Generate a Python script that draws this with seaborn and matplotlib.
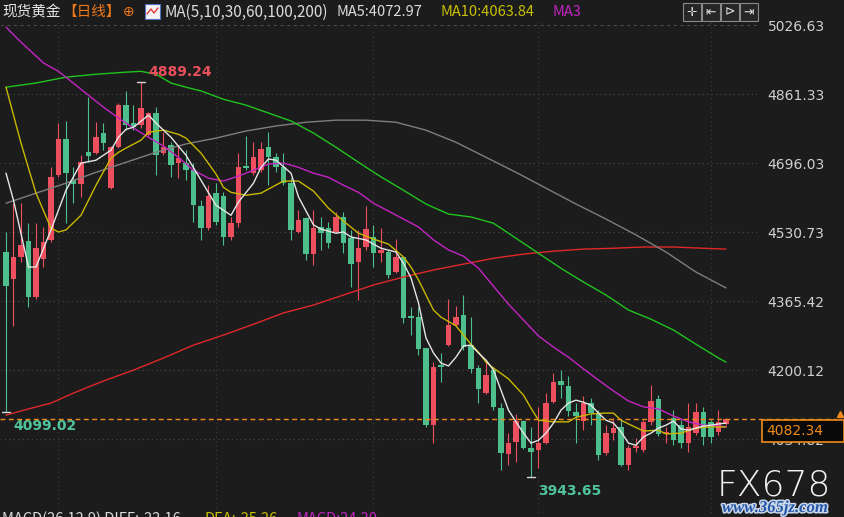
import numpy as np
import pandas as pd
import matplotlib
matplotlib.use('Agg')
import matplotlib.pyplot as plt
import matplotlib.transforms as mtransforms
import matplotlib.patheffects as pe
from matplotlib.patches import Rectangle
import seaborn as sns

BG = '#1c1c1c'
UP = '#ee4f5f'
DOWN = '#4dbf8c'
W, H = 844, 517

# daily candles (red = up, green = down)
opens = [4482.8, 4418.1, 4470.8, 4509.1, 4375.0, 4466.0, 4511.5, 4667.2, 4753.5, 4655.3,
         4645.7, 4722.4, 4720.0, 4767.9, 4636.1, 4734.3, 4835.0, 4791.8, 4787.0, 4763.1,
         4815.8, 4720.0, 4739.1, 4696.0, 4696.0, 4679.2, 4593.0, 4540.3, 4624.1, 4616.9,
         4518.7, 4552.3, 4688.8, 4672.0, 4679.2, 4734.3, 4710.4, 4686.4, 4648.1, 4530.7,
         4564.2, 4478.0, 4542.7, 4540.3, 4530.7, 4566.6, 4516.3, 4458.8, 4494.8, 4518.7,
         4480.4, 4482.8, 4434.9, 4470.8, 4329.5, 4327.1, 4252.8, 4068.3, 4212.1, 4260.0,
         4307.9, 4331.9, 4260.0, 4204.9, 4145.0, 4200.1, 4109.1, 3998.8, 4027.6, 4077.9,
         4013.2, 4008.4, 4025.2, 4123.4, 4173.7, 4161.8, 4099.5, 4077.9, 4121.0, 4097.1,
         4001.2, 4049.2, 4063.5, 3972.5, 4013.2, 4008.4, 4075.5, 4130.6, 4046.8, 4085.1,
         4068.3, 4025.2, 4049.2, 4099.5, 4075.5, 4051.6, 4070.7]
highs = [4530.7, 4600.2, 4600.2, 4552.3, 4552.3, 4542.7, 4686.4, 4791.8, 4796.6, 4686.4,
         4715.2, 4854.1, 4794.2, 4791.8, 4738.0, 4839.7, 4868.5, 4835.0, 4889.24, 4818.2,
         4830.2, 4770.3, 4746.3, 4736.7, 4727.1, 4696.0, 4607.4, 4643.3, 4648.1, 4626.5,
         4566.6, 4720.0, 4760.7, 4746.3, 4746.3, 4770.3, 4720.0, 4720.0, 4660.1, 4583.4,
         4566.6, 4583.4, 4566.6, 4554.7, 4578.6, 4578.6, 4535.5, 4535.5, 4593.0, 4547.5,
         4540.3, 4487.6, 4513.9, 4472.0, 4351.0, 4351.0, 4254.0, 4219.3, 4240.8, 4370.2,
         4353.4, 4379.8, 4327.1, 4212.1, 4219.3, 4207.3, 4121.0, 4049.2, 4094.7, 4080.3,
         4063.5, 4111.5, 4145.0, 4192.9, 4200.1, 4185.7, 4121.0, 4137.8, 4133.0, 4104.3,
         4068.3, 4085.1, 4080.3, 4020.4, 4037.2, 4080.3, 4164.2, 4140.0, 4063.5, 4104.3,
         4080.3, 4121.0, 4121.0, 4111.5, 4080.3, 4104.3, 4085.1]
lows = [4099.02, 4305.5, 4458.8, 4351.0, 4370.0, 4446.8, 4508.0, 4662.5, 4552.3, 4600.2,
        4614.5, 4698.4, 4718.0, 4727.1, 4634.0, 4732.0, 4775.1, 4775.1, 4779.8, 4761.0,
        4667.2, 4715.2, 4662.5, 4660.1, 4655.3, 4554.7, 4511.5, 4535.5, 4547.5, 4499.6,
        4511.5, 4542.7, 4679.2, 4667.2, 4674.4, 4643.3, 4674.4, 4643.3, 4511.5, 4528.0,
        4463.6, 4451.6, 4487.6, 4492.4, 4528.0, 4480.4, 4398.9, 4367.8, 4487.6, 4446.8,
        4458.8, 4420.5, 4432.5, 4312.7, 4283.9, 4236.0, 4063.5, 4025.2, 4171.3, 4258.0,
        4306.0, 4248.0, 4192.9, 4121.0, 4143.0, 4104.3, 3960.5, 3972.5, 3979.7, 4010.8,
        3943.65, 3965.3, 4023.0, 4121.0, 4133.0, 4089.9, 4025.2, 4056.3, 4068.3, 3984.5,
        3996.5, 4032.4, 3970.1, 3960.5, 4003.6, 4003.6, 4068.3, 4042.0, 4025.2, 4020.4,
        4013.2, 4003.6, 4044.4, 4020.4, 4025.2, 4044.4, 4068.3]
closes = [4401.3, 4470.8, 4499.6, 4375.0, 4492.4, 4506.7, 4662.5, 4753.5, 4672.0, 4645.7,
          4698.4, 4712.8, 4758.3, 4743.9, 4734.3, 4835.0, 4787.0, 4782.2, 4827.8, 4815.8,
          4715.2, 4734.3, 4691.2, 4708.0, 4679.2, 4595.4, 4540.3, 4616.9, 4554.7, 4518.7,
          4552.3, 4686.4, 4684.0, 4710.4, 4729.5, 4710.4, 4686.4, 4648.1, 4535.5, 4559.4,
          4478.0, 4540.3, 4528.3, 4504.3, 4566.6, 4504.3, 4454.0, 4492.4, 4537.9, 4480.4,
          4487.6, 4427.7, 4470.8, 4324.7, 4324.7, 4250.4, 4068.3, 4207.3, 4207.3, 4307.9,
          4327.1, 4255.2, 4202.5, 4154.6, 4188.1, 4111.5, 4001.2, 4025.2, 4077.9, 4013.2,
          4003.6, 4025.2, 4121.0, 4171.3, 4164.2, 4101.9, 4089.9, 4121.0, 4097.1, 3996.5,
          4049.2, 4061.1, 3972.5, 4013.2, 4018.0, 4075.5, 4125.8, 4046.8, 4051.6, 4032.4,
          4025.2, 4063.5, 4099.5, 4039.6, 4039.6, 4075.5, 4082.34]

# moving averages (candle index, value)
ma5_idx = [1, 2, 4, 5, 7, 9, 11, 13, 15, 16, 17, 18, 20, 21, 23, 25, 27, 29, 31, 32, 34, 35,
           36, 37, 39, 40, 42, 43, 45, 46, 47, 49, 51, 53, 54, 55, 56, 57, 58, 59, 60, 61, 62,
           63, 64, 65, 66, 67, 68, 69, 70, 71, 72, 73, 74, 75, 76, 77, 78, 79, 80, 81, 82, 83,
           84, 85, 86, 87, 88, 89, 90, 91, 92, 93, 94, 95, 96, 97]
ma5_val = [4672, 4607, 4447, 4447, 4536, 4631, 4696, 4703, 4727, 4758, 4777, 4782, 4811, 4792,
           4758, 4715, 4655, 4595, 4571, 4603, 4648, 4686, 4706, 4703, 4672, 4615, 4548, 4538,
           4528, 4531, 4519, 4512, 4492, 4483, 4456, 4421, 4361, 4277, 4241, 4217, 4210, 4231,
           4258, 4260, 4241, 4224, 4200, 4152, 4104, 4076, 4049, 4025, 4032, 4049, 4073, 4104,
           4121, 4128, 4123, 4116, 4097, 4080, 4073, 4052, 4025, 4020, 4040, 4049, 4061, 4068,
           4078, 4059, 4056, 4061, 4066, 4068, 4071, 4072.97]
ma10_idx = [1, 3, 5, 7, 8, 9, 11, 13, 15, 16, 17, 19, 20, 22, 24, 25, 27, 29, 30, 31, 33, 35,
            36, 38, 40, 42, 44, 46, 48, 50, 52, 54, 55, 56, 57, 58, 59, 61, 63, 64, 65, 66, 68,
            70, 71, 72, 74, 76, 77, 79, 81, 82, 83, 84, 86, 88, 89, 91, 93, 95, 97]
ma10_val = [4878, 4744, 4624, 4540, 4531, 4536, 4571, 4643, 4708, 4722, 4732, 4751, 4770, 4775,
            4765, 4756, 4720, 4670, 4638, 4626, 4619, 4624, 4634, 4653, 4653, 4629, 4588, 4557,
            4528, 4514, 4502, 4471, 4447, 4416, 4380, 4344, 4327, 4306, 4262, 4243, 4219, 4205,
            4179, 4140, 4109, 4080, 4076, 4076, 4087, 4095, 4097, 4097, 4080, 4071, 4054, 4056,
            4047, 4049, 4061, 4064, 4063.84]
ma30_idx = [1, 3, 6, 8, 11, 14, 16, 18, 20, 22, 24, 26, 28, 30, 32, 34, 36, 38, 40, 42, 44, 46,
            48, 50, 52, 54, 56, 58, 60, 62, 64, 66, 68, 70, 72, 74, 76, 78, 80, 82, 84, 86, 88,
            90, 92, 94, 96, 97]
ma30_val = [5022, 4986, 4936, 4916, 4873, 4830, 4804, 4780, 4758, 4737, 4710, 4679, 4660, 4653,
            4665, 4679, 4694, 4696, 4686, 4672, 4662, 4643, 4626, 4600, 4581, 4562, 4543, 4512,
            4488, 4473, 4444, 4401, 4358, 4320, 4282, 4255, 4231, 4203, 4176, 4150, 4126, 4112,
            4107, 4090, 4076, 4068, 4066, 4064]
ma60_idx = [1, 5, 9, 13, 17, 19, 21, 23, 25, 27, 30, 33, 36, 39, 42, 45, 48, 51, 54, 57, 60,
            63, 66, 69, 72, 75, 78, 81, 84, 87, 90, 93, 96, 97]
ma60_val = [4878, 4888, 4902, 4909, 4914, 4916, 4909, 4888, 4878, 4869, 4849, 4835, 4816, 4797,
            4768, 4734, 4698, 4663, 4631, 4598, 4574, 4567, 4552, 4516, 4480, 4444, 4411, 4380,
            4344, 4322, 4296, 4262, 4229, 4219]
ma100_idx = [1, 5, 9, 13, 17, 21, 25, 29, 33, 37, 41, 45, 49, 53, 57, 61, 65, 69, 73, 77, 81,
             85, 89, 93, 97]
ma100_val = [4600, 4624, 4648, 4674, 4698, 4722, 4742, 4756, 4773, 4785, 4794, 4799, 4799, 4794,
             4775, 4746, 4710, 4674, 4636, 4598, 4562, 4524, 4483, 4435, 4397]
ma200_idx = [1, 4, 7, 10, 14, 18, 22, 26, 30, 34, 38, 42, 46, 50, 54, 58, 62, 66, 70, 74, 78,
             82, 86, 90, 94, 97]
ma200_val = [4092, 4107, 4121, 4145, 4174, 4200, 4229, 4260, 4284, 4310, 4337, 4356, 4380, 4404,
             4423, 4440, 4454, 4468, 4478, 4485, 4490, 4492, 4495, 4495, 4492, 4490]

price_ticks = [5026.63, 4861.33, 4696.03, 4530.73, 4365.42, 4200.12, 4034.82]
month_marks = [8, 29, 50, 72, 95]
last_price = 4082.34
macd_text = ['MACD(26,12,9) DIFF:-22.16', 'DEA:-25.26', 'MACD:24.20']

ma_names = ['MA5', 'MA10', 'MA30', 'MA60', 'MA100', 'MA200']
ma_colors = {'MA5': '#e6e6e6', 'MA10': '#c9b800', 'MA30': '#c424c4',
             'MA60': '#1fc41f', 'MA100': '#7e7e7e', 'MA200': '#e02828'}

sns.set_theme(style='dark', rc={'axes.facecolor': BG, 'figure.facecolor': BG,
                                'axes.edgecolor': BG, 'savefig.facecolor': BG})
plt.rcParams['font.family'] = ['Noto Sans CJK SC', 'DejaVu Sans']


def fx(px):
    return px / W


def fy(py):
    return 1 - py / H


fig = plt.figure(figsize=(W / 100, H / 100), dpi=100)
ax = fig.add_axes([0, 0, fx(758), 1 - 20 / H])
ax.set_xlim(0.2, 101.27)
ax.set_ylim(3848, 5039)

# grid
for p in price_ticks:
    ls = (0, (3, 3)) if p == price_ticks[0] else (0, (1, 3))
    ax.axhline(p, color='#4a4a4a', lw=0.8, ls=ls, zorder=0)
for m in month_marks:
    ax.axvline(m, color='#3e3e3e', lw=0.8, ls=(0, (1, 3)), zorder=0)

# candles
x = np.arange(1, len(opens) + 1)
o = np.array(opens)
c = np.array(closes)
colors = np.where(c >= o, UP, DOWN)
ax.vlines(x, lows, highs, colors=colors, lw=0.8, zorder=2)
body = np.maximum(np.abs(c - o), 2.5)
ax.bar(x, body, bottom=np.minimum(o, c), width=0.72, color=colors, lw=0, zorder=2)

# moving averages
frames = []
for name, idx, val in zip(ma_names, [ma5_idx, ma10_idx, ma30_idx, ma60_idx, ma100_idx, ma200_idx],
                          [ma5_val, ma10_val, ma30_val, ma60_val, ma100_val, ma200_val]):
    frames.append(pd.DataFrame({'idx': idx, 'val': val, 'ma': name}))
ma_df = pd.concat(frames, ignore_index=True)
sns.lineplot(data=ma_df, x='idx', y='val', hue='ma', palette=ma_colors, hue_order=ma_names[::-1],
             estimator=None, sort=False, lw=1.0, legend=False, ax=ax, zorder=3)

# high / low marks
hi_i = int(np.argmax(highs)) + 1
lo_i = int(np.argmin(lows)) + 1
for xi, yv, col, dy in [(hi_i, highs[hi_i - 1], '#e8505c', 5), (lo_i, lows[lo_i - 1], '#4fc49a', -13),
                        (1, lows[0], '#4fc49a', -13)]:
    ax.plot([xi - 0.55, xi + 0.55], [yv, yv], color='#d8d8d8', lw=1, zorder=4)
    ax.annotate(f'{yv:.2f}', xy=(xi, yv), xytext=(5, dy), textcoords='offset points',
                color=col, fontsize=10, fontweight='bold', family='DejaVu Sans', zorder=5)

# right price axis
ax.yaxis.tick_right()
ax.set_yticks(price_ticks)
ax.set_yticklabels([f'{p:.2f}' for p in price_ticks])
ax.tick_params(axis='y', length=0, pad=7, labelsize=10, labelcolor='#d0d0d0')
for t in ax.get_yticklabels():
    t.set_family('DejaVu Sans')
ax.set_xticks(month_marks)
ax.set_xticklabels([])
ax.tick_params(axis='x', length=0)
ax.set_xlabel('')
ax.set_ylabel('')
ax.grid(False)

# last price line and box
blend = mtransforms.blended_transform_factory(fig.transFigure, ax.transData)
ax.plot([0, fx(836)], [last_price, last_price], color='#f08a1c', lw=1.0, ls=(0, (3.5, 2.5)),
        transform=blend, clip_on=False, zorder=6)
ax.plot([fx(840)], [last_price + 12], marker='^', ms=4, color='#f08a1c', transform=blend,
        clip_on=False, zorder=6)
fig.patches.append(Rectangle((fx(762), fy(442)), fx(82), 22 / H, transform=fig.transFigure,
                             facecolor='#0a0a0a', edgecolor='#f08a1c', lw=1.2, zorder=10))
fig.text(fx(766), fy(431), f'{last_price:.2f}', color='#f08a1c', fontsize=10,
         family='DejaVu Sans', va='center', zorder=11)

# header
ty = fy(12)
fig.text(fx(2), ty, '现货黄金', color='#e6e6e6', fontsize=10.5, va='center')
fig.text(fx(62), ty, '【日线】', color='#f07818', fontsize=10.5, va='center')
fig.text(fx(123), ty, '⊕', color='#f07818', fontsize=10, va='center', family='DejaVu Sans')
fig.patches.append(Rectangle((fx(145), fy(19)), fx(15), 15 / H, transform=fig.transFigure,
                             facecolor='#f4f4f4', edgecolor='#5070c0', lw=0.8))
fig.lines.append(plt.Line2D([fx(147), fx(151), fx(154), fx(158)], [fy(14), fy(9), fy(13), fy(8)],
                            transform=fig.transFigure, color='#e02828', lw=0.9))
fig.text(fx(164), ty, 'MA(5,10,30,60,100,200)', color='#dcdcdc', fontsize=11, va='center')
fig.text(fx(336), ty, f'MA5:{ma5_val[-1]:.2f}', color='#dcdcdc', fontsize=10.5, va='center')
fig.text(fx(440), ty, f'MA10:{ma10_val[-1]:.2f}', color='#c9c000', fontsize=10.5, va='center')
fig.text(fx(553), ty, 'MA3', color='#c424c4', fontsize=10.5, va='center')
for bx, g in zip([683, 702, 721, 740], ['✛', '⇤', '⊳', '⇥']):
    fig.patches.append(Rectangle((fx(bx), fy(21)), fx(18), 18 / H, transform=fig.transFigure,
                                 facecolor='#262626', edgecolor='#8a8a8a', lw=0.8))
    fig.text(fx(bx + 9), fy(12), g, color='#e0e0e0', fontsize=9, ha='center', va='center',
             family='DejaVu Sans')

# bottom MACD caption (cut by figure edge)
for xp, s, col in zip([2, 205, 296], macd_text, ['#dcdcdc', '#c9c000', '#c424c4']):
    fig.text(fx(xp), fy(519), s, color=col, fontsize=10.5, va='center')

# watermark
fig.text(fx(717), fy(485), 'FX678', color='#f2f2f2', fontsize=26, va='center',
         family='DejaVu Sans', fontweight='light')
fig.text(fx(722), fy(508), 'www.365jz.com', color='#2456a8', fontsize=12, va='center',
         family='Liberation Serif', fontweight='bold', style='italic',
         path_effects=[pe.withStroke(linewidth=2.2, foreground='#c8d6ea')])

fig.savefig('out.png', dpi=100, facecolor=BG)
